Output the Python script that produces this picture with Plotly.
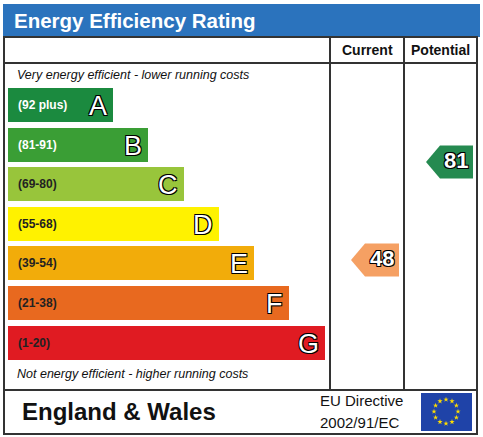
import numpy as np
import plotly.graph_objects as go

# Energy rating bands
bands = ["A", "B", "C", "D", "E", "F", "G"]
ranges = ["(92 plus)", "(81-91)", "(69-80)", "(55-68)", "(39-54)", "(21-38)", "(1-20)"]
band_colors = ["#1b8a3f", "#3a9e35", "#98c53b", "#fff200", "#f2ac0a", "#e8691f", "#e01b22"]
label_colors = ["#ffffff", "#ffffff", "#222222", "#222222", "#222222", "#222222", "#222222"]
bar_right = [113, 148, 184, 219, 254, 289, 325]

current_rating = 48
potential_rating = 81

W, H = 483, 437
ROW0, ROW_STEP, ROW_H = 105, 39.6, 34
LEFT = 8
# vertical scale for the rating arrows (rating -> pixel row)
SCALE_Y100, SCALE_PX = 105.6, 2.97


def rating_y(rating):
    return SCALE_Y100 + (100 - rating) * SCALE_PX


row_y = [ROW0 + ROW_STEP * i for i in range(len(bands))]
outline = "1px 1px 0 #000, -1px -1px 0 #000, 1px -1px 0 #000, -1px 1px 0 #000"

fig = go.Figure()

# Rating bars
fig.add_trace(go.Bar(
    orientation="h",
    y=row_y,
    x=[r - LEFT for r in bar_right],
    base=LEFT,
    width=ROW_H,
    marker={"color": band_colors, "line": {"width": 0}},
    hoverinfo="skip",
))

# Range labels and letters
for i, b in enumerate(bands):
    fig.add_annotation(x=LEFT + 8, y=row_y[i], text="<b>%s</b>" % ranges[i], showarrow=False,
                       xanchor="left", font={"size": 12, "color": label_colors[i], "family": "Arial"})
    fig.add_annotation(x=bar_right[i] - 4, y=row_y[i] + 1, text=b, showarrow=False, xanchor="right",
                       font={"size": 27, "color": "white", "family": "Arial", "shadow": outline})

# Rating arrows
def add_arrow(rating, x_left, x_right, color):
    yc = rating_y(rating)
    h = 16.5
    px = [x_left, x_left + 14, x_right, x_right, x_left + 14, x_left]
    py = [yc, yc - h, yc - h, yc + h, yc + h, yc]
    fig.add_trace(go.Scatter(x=px, y=py, fill="toself", fillcolor=color, mode="lines",
                             line={"width": 0, "color": color}, hoverinfo="skip"))
    fig.add_annotation(x=x_right - 3, y=yc - 2, text="<b>%d</b>" % rating, showarrow=False, xanchor="right",
                       font={"size": 22, "color": "white", "family": "Arial", "shadow": outline})


add_arrow(current_rating, 351, 399, "#f5a063")
add_arrow(potential_rating, 426, 473, "#258a50")

# EU flag stars
ang = np.linspace(0, 2 * np.pi, 13)[:-1]
fig.add_trace(go.Scatter(x=446 + 12 * np.cos(ang), y=411.5 + 12 * np.sin(ang), mode="markers",
                         marker={"symbol": "star", "size": 4, "color": "#ffdd00"}, hoverinfo="skip"))

line = {"color": "#333", "width": 2}
shapes = [
    dict(type="rect", x0=3, x1=480, y0=4, y1=37, fillcolor="#2b73bd", line={"width": 0}, layer="below"),
    dict(type="rect", x0=4, x1=477, y0=37, y1=434, line=line),
    dict(type="line", x0=4, x1=477, y0=63, y1=63, line=line),
    dict(type="line", x0=330, x1=330, y0=37, y1=390, line=line),
    dict(type="line", x0=404, x1=404, y0=37, y1=390, line=line),
    dict(type="line", x0=4, x1=477, y0=390, y1=390, line=line),
    dict(type="rect", x0=421, x1=472, y0=393, y1=431, fillcolor="#1f43a8", line={"width": 0}, layer="below"),
]

texts = [
    dict(x=12, y=20, text="<b>Energy Efficiency Rating</b>", font={"size": 20.5, "color": "white"}, xanchor="left"),
    dict(x=367, y=50, text="<b>Current</b>", font={"size": 14}, xanchor="center"),
    dict(x=440, y=50, text="<b>Potential</b>", font={"size": 14}, xanchor="center"),
    dict(x=15, y=75, text="<i>Very energy efficient - lower running costs</i>", font={"size": 12.5}, xanchor="left"),
    dict(x=15, y=374, text="<i>Not energy efficient - higher running costs</i>", font={"size": 12.5}, xanchor="left"),
    dict(x=20, y=411, text="<b>England & Wales</b>", font={"size": 24}, xanchor="left"),
    dict(x=318, y=400, text="EU Directive", font={"size": 15}, xanchor="left"),
    dict(x=318, y=422, text="2002/91/EC", font={"size": 15}, xanchor="left"),
]
for t in texts:
    f = {"family": "Arial", "color": "#111"}
    f.update(t.pop("font"))
    fig.add_annotation(showarrow=False, font=f, **t)

fig.update_layout(
    width=W, height=H,
    margin={"l": 0, "r": 0, "t": 0, "b": 0},
    paper_bgcolor="white", plot_bgcolor="white",
    showlegend=False, shapes=shapes, bargap=0,
    xaxis={"range": [0, W], "visible": False, "fixedrange": True},
    yaxis={"range": [H, 0], "visible": False, "fixedrange": True},
)

fig.write_html("out.html", config={"displayModeBar": False},
               post_script="document.body.style.margin='0';document.documentElement.style.overflow='hidden';")
